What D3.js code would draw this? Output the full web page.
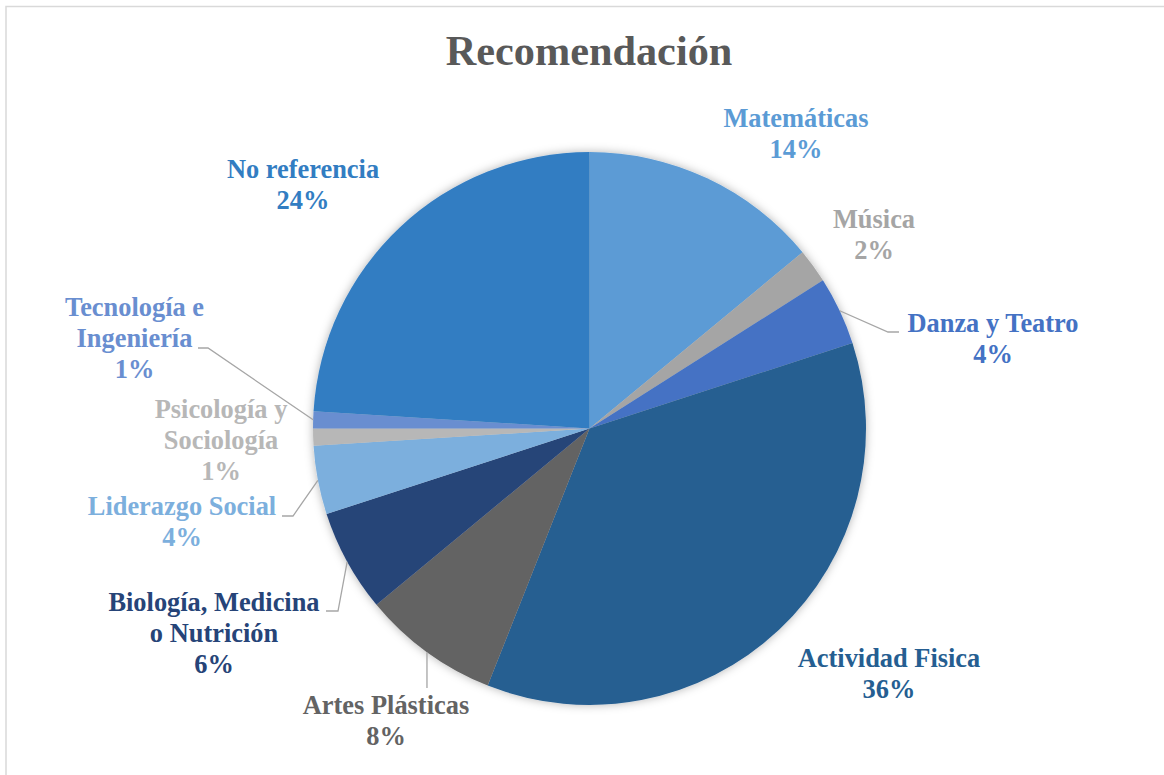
<!DOCTYPE html>
<html>
<head>
<meta charset="utf-8">
<script src="https://cdn.jsdelivr.net/npm/d3@7"></script>
<style>
  html, body { margin: 0; padding: 0; background: #fff; }
  svg { display: block; }
</style>
</head>
<body>
<svg id="chart" width="1164" height="775"></svg>
<script>
// ---- data ----
const categories = ["Matemáticas", "Música", "Danza y Teatro", "Actividad Fisica", "Artes Plásticas",
  "Biología, Medicina o Nutrición", "Liderazgo Social", "Psicología y Sociología", "Tecnología e Ingeniería", "No referencia"];
const values = [14, 2, 4, 36, 8, 6, 4, 1, 1, 24];
const colors = ["#5B9BD5", "#A5A5A5", "#4472C4", "#255E91", "#636363", "#264478", "#7CAFDD", "#B7B7B7", "#698ED0", "#327DC2"];
const labelLines = [
  ["Matemáticas"], ["Música"], ["Danza y Teatro"], ["Actividad Fisica"], ["Artes Plásticas"],
  ["Biología, Medicina", "o Nutrición"], ["Liderazgo Social"], ["Psicología y", "Sociología"],
  ["Tecnología e", "Ingeniería"], ["No referencia"]
];
const title = "Recomendación";

// ---- layout (label anchors: center x, first baseline y; optional leader elbow points) ----
const layout = {
  cx: 589.5, cy: 428.5, r: 276.5,
  labels: [
    { x: 796, y: 127 },
    { x: 874, y: 228 },
    { x: 993, y: 332, leader: [[888, 332], [899, 332]] },
    { x: 889, y: 667 },
    { x: 386, y: 714, leader: [[427, 688]] },
    { x: 214, y: 611, leader: [[338, 611], [326, 611]] },
    { x: 182, y: 515, leader: [[293, 516], [282, 516]] },
    { x: 221, y: 418 },
    { x: 134.5, y: 316, leader: [[208, 348], [198, 348]] },
    { x: 303, y: 178 }
  ]
};

const svg = d3.select("#chart");
const fontFam = "'Liberation Serif', 'Times New Roman', serif";

// border
svg.append("rect").attr("x", 6).attr("y", 6.5).attr("width", 1300).attr("height", 900)
  .attr("fill", "#fff").attr("stroke", "#d9d9d9").attr("stroke-width", 1.5);

// shadow filter
const defs = svg.append("defs");
const f = defs.append("filter").attr("id", "shadow").attr("x", "-20%").attr("y", "-20%").attr("width", "140%").attr("height", "140%");
f.append("feDropShadow").attr("dx", 0).attr("dy", 0).attr("stdDeviation", 5)
  .attr("flood-color", "#000").attr("flood-opacity", 0.3);

// title
svg.append("text").attr("x", 589).attr("y", 65).attr("text-anchor", "middle")
  .attr("font-family", fontFam).attr("font-weight", "bold").attr("font-size", 42.3)
  .attr("fill", "#595959").text(title);

const data = categories.map((c, i) => ({ name: c, value: values[i], color: colors[i], lines: labelLines[i], lab: layout.labels[i] }));
const pie = d3.pie().value(d => d.value).sort(null);
const arcs = pie(data);
const arc = d3.arc().innerRadius(0).outerRadius(layout.r);
const edgeArc = d3.arc().innerRadius(layout.r).outerRadius(layout.r);

const g = svg.append("g").attr("transform", `translate(${layout.cx},${layout.cy})`);
g.append("g").attr("filter", "url(#shadow)")
  .selectAll("path").data(arcs).join("path")
  .attr("d", arc).attr("fill", d => d.data.color);

// leader lines
arcs.forEach(a => {
  const lab = a.data.lab;
  if (!lab.leader) return;
  const c = edgeArc.centroid(a);
  const pts = [[layout.cx + c[0], layout.cy + c[1]], ...lab.leader];
  svg.append("path").attr("d", d3.line()(pts)).attr("fill", "none")
    .attr("stroke", "#A6A6A6").attr("stroke-width", 1.3);
});

// labels
const total = d3.sum(values);
arcs.forEach(a => {
  const d = a.data;
  const t = svg.append("text").attr("text-anchor", "middle")
    .attr("font-family", fontFam).attr("font-weight", "bold").attr("font-size", 26.4)
    .attr("fill", d.color);
  const lines = [...d.lines, Math.round(d.value / total * 100) + "%"];
  lines.forEach((ln, i) => {
    t.append("tspan").attr("x", d.lab.x).attr("y", d.lab.y + i * 31).text(ln);
  });
});
</script>
</body>
</html>
